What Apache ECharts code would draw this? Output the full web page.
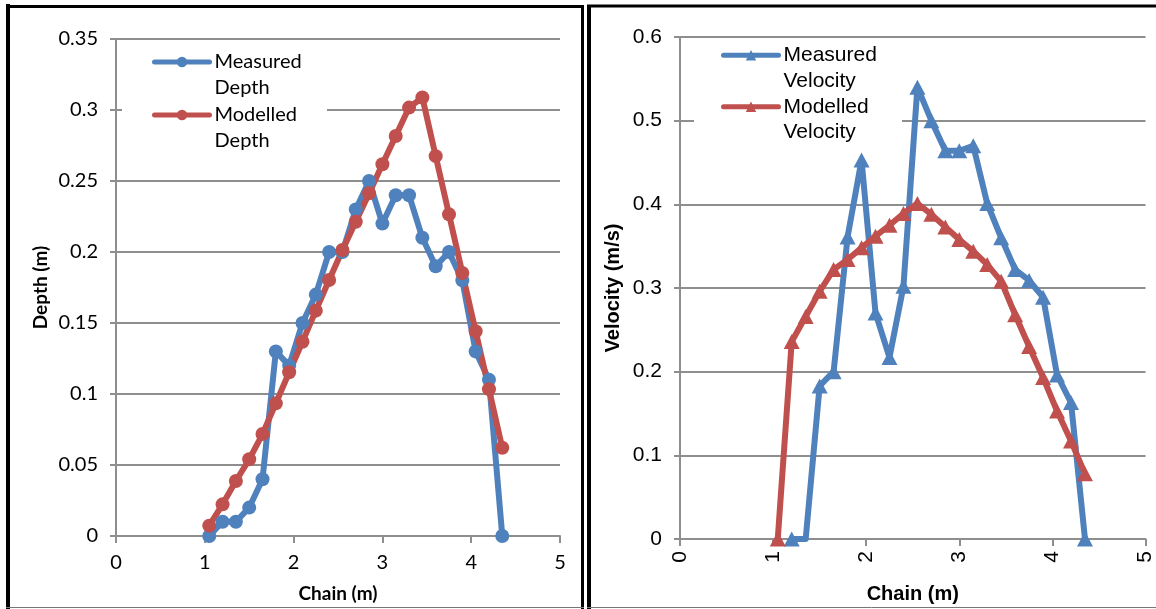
<!DOCTYPE html>
<html><head><meta charset="utf-8">
<script src="https://cdn.jsdelivr.net/npm/echarts@6/dist/echarts.min.js"></script>
<style>html,body{margin:0;padding:0;background:#fff}#c{width:1156px;height:609px}</style>
</head><body><div id="c"></div>
<script>
// ---- data ----
const depthChain = [1.05,1.2,1.35,1.5,1.65,1.8,1.95,2.1,2.25,2.4,2.55,2.7,2.85,3.0,3.15,3.3,3.45,3.6,3.75,3.9,4.05,4.2,4.35];
const measuredDepth = [0,0.01,0.01,0.02,0.04,0.13,0.12,0.15,0.17,0.20,0.20,0.23,0.25,0.22,0.24,0.24,0.21,0.19,0.20,0.18,0.13,0.11,0];
const modelledDepth = [0.0073,0.0223,0.0387,0.054,0.0718,0.0934,0.1153,0.1368,0.1587,0.1803,0.2014,0.2213,0.2413,0.2618,0.2817,0.3017,0.3088,0.2675,0.2265,0.1852,0.1442,0.1034,0.0621];
const velChainMeasured = [1.2,1.35,1.5,1.65,1.8,1.95,2.1,2.25,2.4,2.55,2.7,2.85,3.0,3.15,3.3,3.45,3.6,3.75,3.9,4.05,4.2,4.35];
const measuredVelocity = [0,0,0.183,0.2,0.361,0.453,0.27,0.217,0.302,0.54,0.50,0.464,0.464,0.47,0.401,0.36,0.322,0.309,0.289,0.196,0.163,0];
const velChainModelled = [1.05,1.2,1.35,1.5,1.65,1.8,1.95,2.1,2.25,2.4,2.55,2.7,2.85,3.0,3.15,3.3,3.45,3.6,3.75,3.9,4.05,4.2,4.35];
const modelledVelocity = [0,0.236,0.266,0.296,0.322,0.334,0.348,0.362,0.375,0.389,0.401,0.388,0.373,0.358,0.344,0.328,0.308,0.268,0.230,0.193,0.153,0.117,0.078];
const seriesNames = ['Measured Depth','Modelled Depth','Measured Velocity','Modelled Velocity'];
const axisNames = {chain:'Chain (m)', depth:'Depth (m)', velocity:'Velocity (m/s)'};

// ---- styling ----
const BLUE = '#4F81BD', RED = '#C0504D', GRAY = '#8e8e8e';
const LF = 'Lato', RF = 'Liberation Sans';
const LW = 6;
const pair = (xs, ys) => xs.map((x, i) => [x, ys[i]]);

function xAx(gi, font, size, rotate, margin, nameGap, nameSize) {
  return {
    gridIndex: gi, type: 'value', min: 0, max: 5, interval: 1,
    axisLine: {show: true, onZero: false, lineStyle: {color: GRAY, width: 2}},
    axisTick: {show: true, length: 7, lineStyle: {color: GRAY, width: 2}},
    splitLine: {show: false},
    axisLabel: {margin: margin, rotate: rotate, fontFamily: font, fontSize: size, color: '#000'},
    name: axisNames.chain, nameLocation: 'middle', nameGap: nameGap,
    nameTextStyle: {fontFamily: font, fontWeight: 'bold', fontSize: nameSize, color: '#000'}
  };
}
function yAx(gi, font, size, max, interval, name, nameGap, nameSize) {
  return {
    gridIndex: gi, type: 'value', min: 0, max: max, interval: interval,
    axisLine: {show: true, lineStyle: {color: GRAY, width: 2}},
    axisTick: {show: true, length: 6, lineStyle: {color: GRAY, width: 2}},
    splitLine: {show: true, lineStyle: {color: GRAY, width: 2}},
    axisLabel: {margin: 18, fontFamily: font, fontSize: size, color: '#000'},
    name: name, nameLocation: 'middle', nameGap: nameGap,
    nameTextStyle: {fontFamily: font, fontWeight: 'bold', fontSize: nameSize, color: '#000'}
  };
}
function lineSeries(name, xi, data, color, symbol, size) {
  return {
    name: name, type: 'line', xAxisIndex: xi, yAxisIndex: xi, data: data,
    symbol: symbol, symbolSize: size, showSymbol: true,
    lineStyle: {color: color, width: LW, cap: 'round', join: 'round'},
    itemStyle: {color: color},
    emphasis: {disabled: true}, animation: false
  };
}
function legend(names, left, top, font, size, lh, gap) {
  return {
    orient: 'vertical', left: left, top: top, padding: 0, itemGap: gap,
    itemWidth: 55, itemHeight: 13, selectedMode: false, data: names,
    lineStyle: {width: 5},
    formatter: n => '\n' + n.replace(' ', '\n'),
    textStyle: {fontFamily: font, fontSize: size, color: '#000', lineHeight: lh}
  };
}

const mvData = pair(velChainMeasured, measuredVelocity).map((p, i) => (i === 1 ? {value: p, symbol: 'none'} : p));

const option = {
  backgroundColor: '#fff',
  animation: false,
  grid: [
    {left: 116, right: 596, top: 39, bottom: 73},
    {left: 680, right: 9, top: 37, bottom: 69}
  ],
  xAxis: [xAx(0, LF, 20, 0, 17, 48, 19), xAx(1, RF, 21, 90, 12, 45, 20)],
  yAxis: [yAx(0, LF, 20, 0.35, 0.05, axisNames.depth, 66, 19), yAx(1, RF, 21, 0.6, 0.1, axisNames.velocity, 57, 20)],
  legend: [
    legend([seriesNames[0], seriesNames[1]], 152, 23, LF, 20, 26, -25),
    legend([seriesNames[2], seriesNames[3]], 721, 17, RF, 21, 25.5, -25)
  ],
  series: [
    lineSeries(seriesNames[0], 0, pair(depthChain, measuredDepth), BLUE, 'circle', 14),
    lineSeries(seriesNames[1], 0, pair(depthChain, modelledDepth), RED, 'circle', 14),
    lineSeries(seriesNames[2], 1, mvData, BLUE, 'triangle', [16, 15]),
    lineSeries(seriesNames[3], 1, pair(velChainModelled, modelledVelocity), RED, 'triangle', [16, 15])
  ],
  graphic: [
    {type: 'rect', z: 1, silent: true, shape: {x: 122, y: 45, width: 205, height: 108}, style: {fill: '#fff'}},
    {type: 'rect', z: 1, silent: true, shape: {x: 694, y: 42, width: 208, height: 106}, style: {fill: '#fff'}},
    {type: 'line', z: 20, silent: true, shape: {x1: 8, y1: 4, x2: 8, y2: 609}, style: {stroke: '#000', lineWidth: 4}},
    {type: 'line', z: 20, silent: true, shape: {x1: 6, y1: 6.5, x2: 584, y2: 6.5}, style: {stroke: '#000', lineWidth: 3}},
    {type: 'line', z: 20, silent: true, shape: {x1: 582.5, y1: 5, x2: 582.5, y2: 609}, style: {stroke: '#000', lineWidth: 3}},
    {type: 'line', z: 20, silent: true, shape: {x1: 6, y1: 607.5, x2: 584, y2: 607.5}, style: {stroke: '#777', lineWidth: 1}},
    {type: 'line', z: 20, silent: true, shape: {x1: 589, y1: 5, x2: 589, y2: 609}, style: {stroke: '#000', lineWidth: 4}},
    {type: 'line', z: 20, silent: true, shape: {x1: 587, y1: 6, x2: 1156, y2: 6}, style: {stroke: '#000', lineWidth: 3}},
    {type: 'line', z: 20, silent: true, shape: {x1: 587, y1: 607.5, x2: 1156, y2: 607.5}, style: {stroke: '#777', lineWidth: 1}}
  ]
};
const chart = echarts.init(document.getElementById('c'), null, {renderer: 'canvas'});
chart.setOption(option);
</script>
</body></html>
